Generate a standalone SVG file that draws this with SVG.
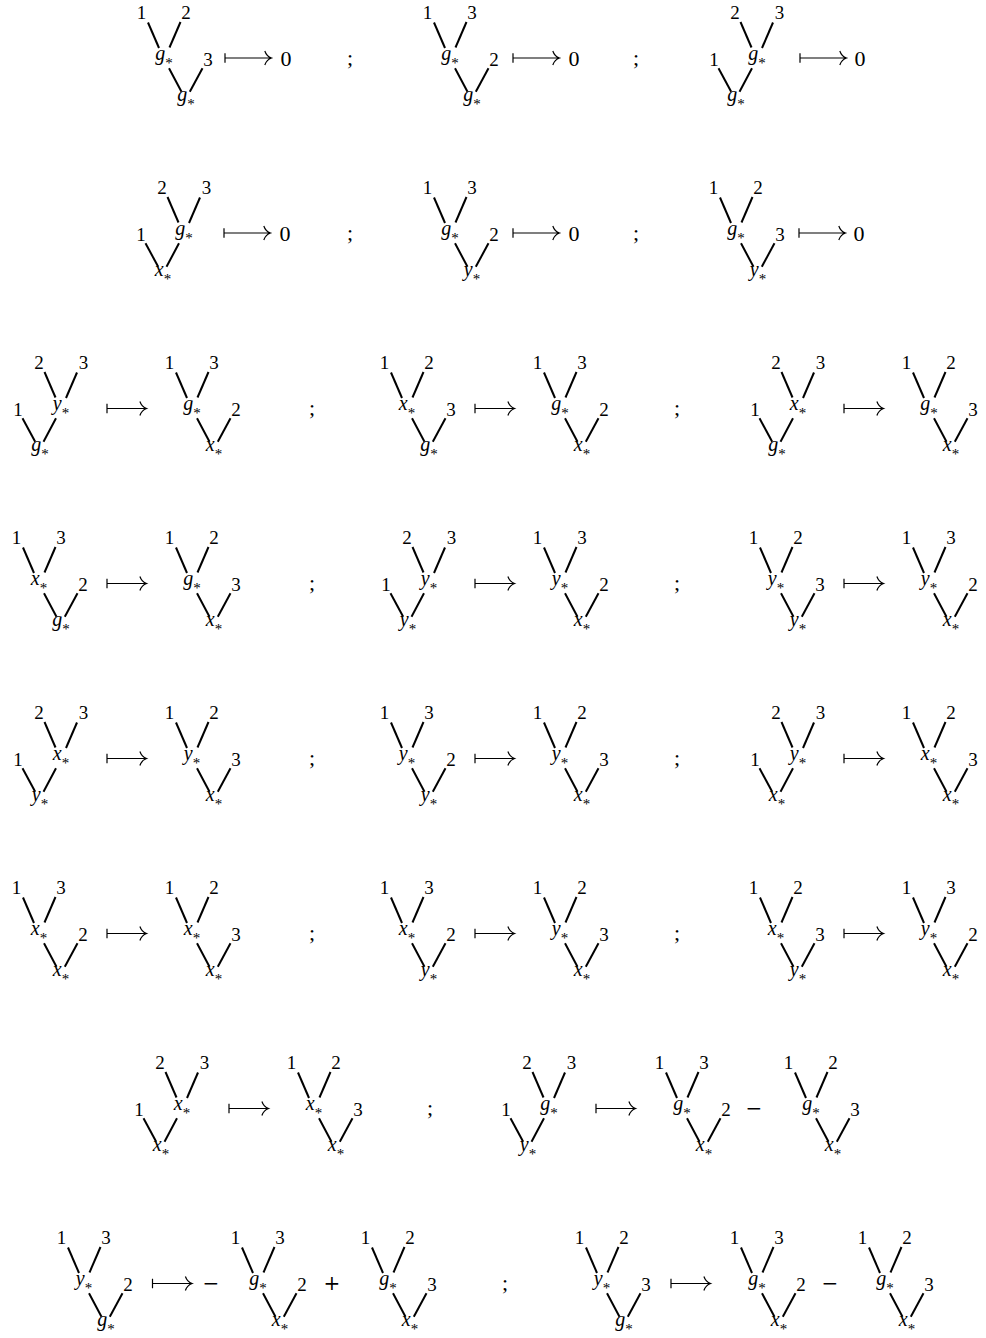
<svg xmlns="http://www.w3.org/2000/svg" width="986" height="1338" viewBox="0 0 986 1338">
<style>
.e line{stroke:#000;stroke-width:2;fill:none}
.d{font-family:"Liberation Serif",serif;font-size:19px;text-anchor:middle;fill:#000}
.v{font-family:"Liberation Serif",serif;font-style:italic;font-size:20px;text-anchor:middle;fill:#000}
.s{font-style:normal;font-size:15px}
.m{font-family:"Liberation Serif",serif;font-size:22px;text-anchor:middle;fill:#000}
.o{font-family:"DejaVu Serif",serif;font-size:20px;text-anchor:middle;fill:#000}
.a{stroke:#000;stroke-width:1.2;fill:none}
</style>
<defs>
<g id="LC" class="e">
<line x1="-16" y1="-36.5" x2="-5" y2="-11"/>
<line x1="16.5" y1="-37" x2="5.5" y2="-11.5"/>
<line x1="5" y1="9.3" x2="17.5" y2="32.7"/>
<line x1="38.5" y1="9.3" x2="25.8" y2="32.7"/>
</g>
<g id="RC" class="e">
<line x1="16" y1="-36.5" x2="5" y2="-11"/>
<line x1="-16.5" y1="-37" x2="-5.5" y2="-11.5"/>
<line x1="-5" y1="9.3" x2="-17.5" y2="32.7"/>
<line x1="-38.5" y1="9.3" x2="-25.8" y2="32.7"/>
</g>
<path id="mtL" class="a" d="M0,-4.7V4.7M0,0H46.5M39.8,-7C41,-3.5 43.5,-1 46.5,0C43.5,1 41,3.5 39.8,7"/>
<path id="mtS" class="a" d="M0,-4.7V4.7M0,0H39.6M32.9,-7C34.1,-3.5 36.6,-1 39.6,0C36.6,1 34.1,3.5 32.9,7"/>
</defs>
<rect width="986" height="1338" fill="#fff"/>

<!-- Row 0 -->
<g id="r0t1" transform="translate(164,59)"><use href="#LC"/><text class="d" x="-22.5" y="-40">1</text><text class="d" x="22" y="-40">2</text><text class="d" x="44" y="7">3</text><text class="v" x="0" y="1">g<tspan class="s" dy="8">*</tspan></text><text class="v" x="22" y="42">g<tspan class="s" dy="8">*</tspan></text></g>
<g id="r0t2" transform="translate(450,59)"><use href="#LC"/><text class="d" x="-22.5" y="-40">1</text><text class="d" x="22" y="-40">3</text><text class="d" x="44" y="7">2</text><text class="v" x="0" y="1">g<tspan class="s" dy="8">*</tspan></text><text class="v" x="22" y="42">g<tspan class="s" dy="8">*</tspan></text></g>
<g id="r0t3" transform="translate(757,59)"><use href="#RC"/><text class="d" x="-43" y="7">1</text><text class="d" x="-22" y="-40">2</text><text class="d" x="22.5" y="-40">3</text><text class="v" x="0" y="1">g<tspan class="s" dy="8">*</tspan></text><text class="v" x="-21" y="42">g<tspan class="s" dy="8">*</tspan></text></g>

<!-- Row 1 -->
<g id="r1t1" transform="translate(184,234)"><use href="#RC"/><text class="d" x="-43" y="7">1</text><text class="d" x="-22" y="-40">2</text><text class="d" x="22.5" y="-40">3</text><text class="v" x="0" y="1">g<tspan class="s" dy="8">*</tspan></text><text class="v" x="-21" y="42">x<tspan class="s" dy="8">*</tspan></text></g>
<g id="r1t2" transform="translate(450,234)"><use href="#LC"/><text class="d" x="-22.5" y="-40">1</text><text class="d" x="22" y="-40">3</text><text class="d" x="44" y="7">2</text><text class="v" x="0" y="1">g<tspan class="s" dy="8">*</tspan></text><text class="v" x="22" y="42">y<tspan class="s" dy="8">*</tspan></text></g>
<g id="r1t3" transform="translate(736,234)"><use href="#LC"/><text class="d" x="-22.5" y="-40">1</text><text class="d" x="22" y="-40">2</text><text class="d" x="44" y="7">3</text><text class="v" x="0" y="1">g<tspan class="s" dy="8">*</tspan></text><text class="v" x="22" y="42">y<tspan class="s" dy="8">*</tspan></text></g>

<!-- Row 2 -->
<g id="r2t1" transform="translate(61,409)"><use href="#RC"/><text class="d" x="-43" y="7">1</text><text class="d" x="-22" y="-40">2</text><text class="d" x="22.5" y="-40">3</text><text class="v" x="0" y="1">y<tspan class="s" dy="8">*</tspan></text><text class="v" x="-21" y="42">g<tspan class="s" dy="8">*</tspan></text></g>
<g id="r2t2" transform="translate(192,409)"><use href="#LC"/><text class="d" x="-22.5" y="-40">1</text><text class="d" x="22" y="-40">3</text><text class="d" x="44" y="7">2</text><text class="v" x="0" y="1">g<tspan class="s" dy="8">*</tspan></text><text class="v" x="22" y="42">x<tspan class="s" dy="8">*</tspan></text></g>
<g id="r2t3" transform="translate(407,409)"><use href="#LC"/><text class="d" x="-22.5" y="-40">1</text><text class="d" x="22" y="-40">2</text><text class="d" x="44" y="7">3</text><text class="v" x="0" y="1">x<tspan class="s" dy="8">*</tspan></text><text class="v" x="22" y="42">g<tspan class="s" dy="8">*</tspan></text></g>
<g id="r2t4" transform="translate(560,409)"><use href="#LC"/><text class="d" x="-22.5" y="-40">1</text><text class="d" x="22" y="-40">3</text><text class="d" x="44" y="7">2</text><text class="v" x="0" y="1">g<tspan class="s" dy="8">*</tspan></text><text class="v" x="22" y="42">x<tspan class="s" dy="8">*</tspan></text></g>
<g id="r2t5" transform="translate(798,409)"><use href="#RC"/><text class="d" x="-43" y="7">1</text><text class="d" x="-22" y="-40">2</text><text class="d" x="22.5" y="-40">3</text><text class="v" x="0" y="1">x<tspan class="s" dy="8">*</tspan></text><text class="v" x="-21" y="42">g<tspan class="s" dy="8">*</tspan></text></g>
<g id="r2t6" transform="translate(929,409)"><use href="#LC"/><text class="d" x="-22.5" y="-40">1</text><text class="d" x="22" y="-40">2</text><text class="d" x="44" y="7">3</text><text class="v" x="0" y="1">g<tspan class="s" dy="8">*</tspan></text><text class="v" x="22" y="42">x<tspan class="s" dy="8">*</tspan></text></g>

<!-- Row 3 -->
<g id="r3t1" transform="translate(39,584)"><use href="#LC"/><text class="d" x="-22.5" y="-40">1</text><text class="d" x="22" y="-40">3</text><text class="d" x="44" y="7">2</text><text class="v" x="0" y="1">x<tspan class="s" dy="8">*</tspan></text><text class="v" x="22" y="42">g<tspan class="s" dy="8">*</tspan></text></g>
<g id="r3t2" transform="translate(192,584)"><use href="#LC"/><text class="d" x="-22.5" y="-40">1</text><text class="d" x="22" y="-40">2</text><text class="d" x="44" y="7">3</text><text class="v" x="0" y="1">g<tspan class="s" dy="8">*</tspan></text><text class="v" x="22" y="42">x<tspan class="s" dy="8">*</tspan></text></g>
<g id="r3t3" transform="translate(429,584)"><use href="#RC"/><text class="d" x="-43" y="7">1</text><text class="d" x="-22" y="-40">2</text><text class="d" x="22.5" y="-40">3</text><text class="v" x="0" y="1">y<tspan class="s" dy="8">*</tspan></text><text class="v" x="-21" y="42">y<tspan class="s" dy="8">*</tspan></text></g>
<g id="r3t4" transform="translate(560,584)"><use href="#LC"/><text class="d" x="-22.5" y="-40">1</text><text class="d" x="22" y="-40">3</text><text class="d" x="44" y="7">2</text><text class="v" x="0" y="1">y<tspan class="s" dy="8">*</tspan></text><text class="v" x="22" y="42">x<tspan class="s" dy="8">*</tspan></text></g>
<g id="r3t5" transform="translate(776,584)"><use href="#LC"/><text class="d" x="-22.5" y="-40">1</text><text class="d" x="22" y="-40">2</text><text class="d" x="44" y="7">3</text><text class="v" x="0" y="1">y<tspan class="s" dy="8">*</tspan></text><text class="v" x="22" y="42">y<tspan class="s" dy="8">*</tspan></text></g>
<g id="r3t6" transform="translate(929,584)"><use href="#LC"/><text class="d" x="-22.5" y="-40">1</text><text class="d" x="22" y="-40">3</text><text class="d" x="44" y="7">2</text><text class="v" x="0" y="1">y<tspan class="s" dy="8">*</tspan></text><text class="v" x="22" y="42">x<tspan class="s" dy="8">*</tspan></text></g>

<!-- Row 4 -->
<g id="r4t1" transform="translate(61,759)"><use href="#RC"/><text class="d" x="-43" y="7">1</text><text class="d" x="-22" y="-40">2</text><text class="d" x="22.5" y="-40">3</text><text class="v" x="0" y="1">x<tspan class="s" dy="8">*</tspan></text><text class="v" x="-21" y="42">y<tspan class="s" dy="8">*</tspan></text></g>
<g id="r4t2" transform="translate(192,759)"><use href="#LC"/><text class="d" x="-22.5" y="-40">1</text><text class="d" x="22" y="-40">2</text><text class="d" x="44" y="7">3</text><text class="v" x="0" y="1">y<tspan class="s" dy="8">*</tspan></text><text class="v" x="22" y="42">x<tspan class="s" dy="8">*</tspan></text></g>
<g id="r4t3" transform="translate(407,759)"><use href="#LC"/><text class="d" x="-22.5" y="-40">1</text><text class="d" x="22" y="-40">3</text><text class="d" x="44" y="7">2</text><text class="v" x="0" y="1">y<tspan class="s" dy="8">*</tspan></text><text class="v" x="22" y="42">y<tspan class="s" dy="8">*</tspan></text></g>
<g id="r4t4" transform="translate(560,759)"><use href="#LC"/><text class="d" x="-22.5" y="-40">1</text><text class="d" x="22" y="-40">2</text><text class="d" x="44" y="7">3</text><text class="v" x="0" y="1">y<tspan class="s" dy="8">*</tspan></text><text class="v" x="22" y="42">x<tspan class="s" dy="8">*</tspan></text></g>
<g id="r4t5" transform="translate(798,759)"><use href="#RC"/><text class="d" x="-43" y="7">1</text><text class="d" x="-22" y="-40">2</text><text class="d" x="22.5" y="-40">3</text><text class="v" x="0" y="1">y<tspan class="s" dy="8">*</tspan></text><text class="v" x="-21" y="42">x<tspan class="s" dy="8">*</tspan></text></g>
<g id="r4t6" transform="translate(929,759)"><use href="#LC"/><text class="d" x="-22.5" y="-40">1</text><text class="d" x="22" y="-40">2</text><text class="d" x="44" y="7">3</text><text class="v" x="0" y="1">x<tspan class="s" dy="8">*</tspan></text><text class="v" x="22" y="42">x<tspan class="s" dy="8">*</tspan></text></g>

<!-- Row 5 -->
<g id="r5t1" transform="translate(39,934)"><use href="#LC"/><text class="d" x="-22.5" y="-40">1</text><text class="d" x="22" y="-40">3</text><text class="d" x="44" y="7">2</text><text class="v" x="0" y="1">x<tspan class="s" dy="8">*</tspan></text><text class="v" x="22" y="42">x<tspan class="s" dy="8">*</tspan></text></g>
<g id="r5t2" transform="translate(192,934)"><use href="#LC"/><text class="d" x="-22.5" y="-40">1</text><text class="d" x="22" y="-40">2</text><text class="d" x="44" y="7">3</text><text class="v" x="0" y="1">x<tspan class="s" dy="8">*</tspan></text><text class="v" x="22" y="42">x<tspan class="s" dy="8">*</tspan></text></g>
<g id="r5t3" transform="translate(407,934)"><use href="#LC"/><text class="d" x="-22.5" y="-40">1</text><text class="d" x="22" y="-40">3</text><text class="d" x="44" y="7">2</text><text class="v" x="0" y="1">x<tspan class="s" dy="8">*</tspan></text><text class="v" x="22" y="42">y<tspan class="s" dy="8">*</tspan></text></g>
<g id="r5t4" transform="translate(560,934)"><use href="#LC"/><text class="d" x="-22.5" y="-40">1</text><text class="d" x="22" y="-40">2</text><text class="d" x="44" y="7">3</text><text class="v" x="0" y="1">y<tspan class="s" dy="8">*</tspan></text><text class="v" x="22" y="42">x<tspan class="s" dy="8">*</tspan></text></g>
<g id="r5t5" transform="translate(776,934)"><use href="#LC"/><text class="d" x="-22.5" y="-40">1</text><text class="d" x="22" y="-40">2</text><text class="d" x="44" y="7">3</text><text class="v" x="0" y="1">x<tspan class="s" dy="8">*</tspan></text><text class="v" x="22" y="42">y<tspan class="s" dy="8">*</tspan></text></g>
<g id="r5t6" transform="translate(929,934)"><use href="#LC"/><text class="d" x="-22.5" y="-40">1</text><text class="d" x="22" y="-40">3</text><text class="d" x="44" y="7">2</text><text class="v" x="0" y="1">y<tspan class="s" dy="8">*</tspan></text><text class="v" x="22" y="42">x<tspan class="s" dy="8">*</tspan></text></g>

<!-- Row 6 -->
<g id="r6t1" transform="translate(182,1109)"><use href="#RC"/><text class="d" x="-43" y="7">1</text><text class="d" x="-22" y="-40">2</text><text class="d" x="22.5" y="-40">3</text><text class="v" x="0" y="1">x<tspan class="s" dy="8">*</tspan></text><text class="v" x="-21" y="42">x<tspan class="s" dy="8">*</tspan></text></g>
<g id="r6t2" transform="translate(314,1109)"><use href="#LC"/><text class="d" x="-22.5" y="-40">1</text><text class="d" x="22" y="-40">2</text><text class="d" x="44" y="7">3</text><text class="v" x="0" y="1">x<tspan class="s" dy="8">*</tspan></text><text class="v" x="22" y="42">x<tspan class="s" dy="8">*</tspan></text></g>
<g id="r6t3" transform="translate(549,1109)"><use href="#RC"/><text class="d" x="-43" y="7">1</text><text class="d" x="-22" y="-40">2</text><text class="d" x="22.5" y="-40">3</text><text class="v" x="0" y="1">g<tspan class="s" dy="8">*</tspan></text><text class="v" x="-21" y="42">y<tspan class="s" dy="8">*</tspan></text></g>
<g id="r6t4" transform="translate(682,1109)"><use href="#LC"/><text class="d" x="-22.5" y="-40">1</text><text class="d" x="22" y="-40">3</text><text class="d" x="44" y="7">2</text><text class="v" x="0" y="1">g<tspan class="s" dy="8">*</tspan></text><text class="v" x="22" y="42">x<tspan class="s" dy="8">*</tspan></text></g>
<g id="r6t5" transform="translate(811,1109)"><use href="#LC"/><text class="d" x="-22.5" y="-40">1</text><text class="d" x="22" y="-40">2</text><text class="d" x="44" y="7">3</text><text class="v" x="0" y="1">g<tspan class="s" dy="8">*</tspan></text><text class="v" x="22" y="42">x<tspan class="s" dy="8">*</tspan></text></g>

<!-- Row 7 -->
<g id="r7t1" transform="translate(84,1284)"><use href="#LC"/><text class="d" x="-22.5" y="-40">1</text><text class="d" x="22" y="-40">3</text><text class="d" x="44" y="7">2</text><text class="v" x="0" y="1">y<tspan class="s" dy="8">*</tspan></text><text class="v" x="22" y="42">g<tspan class="s" dy="8">*</tspan></text></g>
<g id="r7t2" transform="translate(258,1284)"><use href="#LC"/><text class="d" x="-22.5" y="-40">1</text><text class="d" x="22" y="-40">3</text><text class="d" x="44" y="7">2</text><text class="v" x="0" y="1">g<tspan class="s" dy="8">*</tspan></text><text class="v" x="22" y="42">x<tspan class="s" dy="8">*</tspan></text></g>
<g id="r7t3" transform="translate(388,1284)"><use href="#LC"/><text class="d" x="-22.5" y="-40">1</text><text class="d" x="22" y="-40">2</text><text class="d" x="44" y="7">3</text><text class="v" x="0" y="1">g<tspan class="s" dy="8">*</tspan></text><text class="v" x="22" y="42">x<tspan class="s" dy="8">*</tspan></text></g>
<g id="r7t4" transform="translate(602,1284)"><use href="#LC"/><text class="d" x="-22.5" y="-40">1</text><text class="d" x="22" y="-40">2</text><text class="d" x="44" y="7">3</text><text class="v" x="0" y="1">y<tspan class="s" dy="8">*</tspan></text><text class="v" x="22" y="42">g<tspan class="s" dy="8">*</tspan></text></g>
<g id="r7t5" transform="translate(757,1284)"><use href="#LC"/><text class="d" x="-22.5" y="-40">1</text><text class="d" x="22" y="-40">3</text><text class="d" x="44" y="7">2</text><text class="v" x="0" y="1">g<tspan class="s" dy="8">*</tspan></text><text class="v" x="22" y="42">x<tspan class="s" dy="8">*</tspan></text></g>
<g id="r7t6" transform="translate(885,1284)"><use href="#LC"/><text class="d" x="-22.5" y="-40">1</text><text class="d" x="22" y="-40">2</text><text class="d" x="44" y="7">3</text><text class="v" x="0" y="1">g<tspan class="s" dy="8">*</tspan></text><text class="v" x="22" y="42">x<tspan class="s" dy="8">*</tspan></text></g>

<!-- connectors: mapsto arrows -->
<g id="connectors">
<use href="#mtL" x="225" y="58"/><use href="#mtL" x="513" y="58"/><use href="#mtL" x="800" y="58"/>
<use href="#mtL" x="224" y="233"/><use href="#mtL" x="513" y="233"/><use href="#mtL" x="799" y="233"/>
<use href="#mtS" x="107" y="408.5"/><use href="#mtS" x="475" y="408.5"/><use href="#mtS" x="844" y="408.5"/>
<use href="#mtS" x="107" y="583.5"/><use href="#mtS" x="475" y="583.5"/><use href="#mtS" x="844" y="583.5"/>
<use href="#mtS" x="107" y="758.5"/><use href="#mtS" x="475" y="758.5"/><use href="#mtS" x="844" y="758.5"/>
<use href="#mtS" x="107" y="933.5"/><use href="#mtS" x="475" y="933.5"/><use href="#mtS" x="844" y="933.5"/>
<use href="#mtS" x="229" y="1108.5"/><use href="#mtS" x="596" y="1108.5"/>
<use href="#mtS" x="152.5" y="1283.5"/><use href="#mtS" x="671" y="1283.5"/>
</g>

<!-- symbols -->
<g id="symbols">
<text class="m" x="286" y="65.5">0</text><text class="m" x="574" y="65.5">0</text><text class="m" x="860" y="65.5">0</text>
<text class="m" x="285" y="240.5">0</text><text class="m" x="574" y="240.5">0</text><text class="m" x="859" y="240.5">0</text>
<text class="m" x="350" y="65">;</text><text class="m" x="636" y="65">;</text>
<text class="m" x="350" y="240">;</text><text class="m" x="636" y="240">;</text>
<text class="m" x="312" y="415">;</text><text class="m" x="677" y="415">;</text>
<text class="m" x="312" y="590">;</text><text class="m" x="677" y="590">;</text>
<text class="m" x="312" y="765">;</text><text class="m" x="677" y="765">;</text>
<text class="m" x="312" y="940">;</text><text class="m" x="677" y="940">;</text>
<text class="m" x="430" y="1115">;</text>
<text class="m" x="505" y="1290">;</text>
<text class="o" x="754" y="1114.5">−</text>
<text class="o" x="211" y="1289.5">−</text>
<text class="o" x="332" y="1289.5">+</text>
<text class="o" x="830" y="1289.5">−</text>
</g>
</svg>
